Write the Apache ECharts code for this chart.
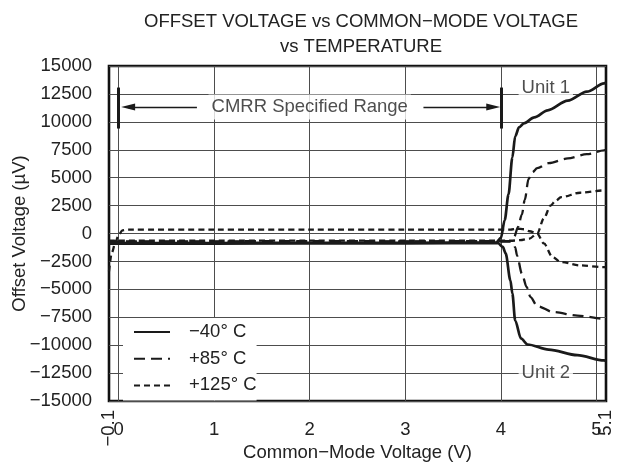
<!DOCTYPE html>
<html><head><meta charset="utf-8">
<script src="https://cdn.jsdelivr.net/npm/echarts@6/dist/echarts.min.js"></script>
<style>html,body{margin:0;padding:0;background:#fff}#c{width:619px;height:468px}</style>
</head><body><div id="c"></div>
<script>
// ---- axes / ticks ----
const xMin = -0.1, xMax = 5.1;
const xTicks = [0, 1, 2, 3, 4, 5];
const xEdgeTicks = [-0.1, 5.1];
const yMin = -15000, yMax = 15000, yStep = 2500;

// ---- series names ----
const seriesNames = ['\u221240\u00B0 C', '+85\u00B0 C', '+125\u00B0 C'];

// ---- data: [Common-Mode Voltage (V), Offset Voltage (uV)] ----
const m40Unit1 = [[-0.1,-850],[1,-850],[2,-830],[3,-830],[3.95,-820],[4.0,-400],[4.04,1200],[4.08,3500],[4.12,6800],[4.15,8700],[4.19,9500],[4.24,9860],[4.35,10400],[4.49,11030],[4.7,11900],[4.9,12700],[5.08,13440],[5.1,13550]];
const m40Unit2 = [[-0.1,-900],[1,-900],[2,-880],[3,-880],[3.97,-870],[4.02,-1200],[4.05,-1780],[4.10,-4200],[4.12,-5370],[4.15,-7790],[4.21,-9400],[4.28,-9940],[4.5,-10400],[4.8,-10900],[5.08,-11370],[5.1,-11420]];
const p85Unit1 = [[-0.1,-700],[1,-700],[2,-680],[3,-700],[4.1,-680],[4.14,-300],[4.18,600],[4.22,1700],[4.25,3000],[4.29,4900],[4.33,5500],[4.38,5850],[4.5,6300],[4.7,6720],[4.9,7100],[5.08,7450],[5.1,7500]];
const p85Unit2 = [[-0.1,-750],[1,-750],[2,-740],[3,-740],[4.1,-720],[4.13,-900],[4.15,-1250],[4.17,-2000],[4.22,-3600],[4.27,-4800],[4.31,-5700],[4.38,-6500],[4.55,-7040],[4.8,-7350],[5.08,-7630],[5.1,-7650]];
const p125Unit1 = [[-0.1,-650],[1,-650],[2,-640],[3,-650],[4.1,-650],[4.2,-600],[4.3,-450],[4.38,0],[4.45,1350],[4.52,2500],[4.57,2900],[4.63,3250],[4.83,3650],[5.08,3860],[5.1,3880]];
const p125Unit2 = [[-0.1,-3400],[-0.07,-1700],[-0.03,-700],[0,-170],[0.04,280],[0.1,340],[1,340],[2,340],[3,340],[4.1,340],[4.17,430],[4.24,380],[4.3,200],[4.38,0],[4.45,-890],[4.54,-2110],[4.63,-2560],[4.83,-2860],[5.08,-3010],[5.1,-3020]];

// ---- annotations ----
const cmrrRange = [0, 4];
const cmrrBarY = [9400, 13070];
const cmrrArrowY = 11330;
const cmrrArrowLeft = [0.82, 0.10];
const cmrrArrowRight = [3.19, 3.92];
const cmrrLabel = 'CMRR Specified Range';
const cmrrLabelX = 2.0;
const unitLabelNames = ['Unit 1', 'Unit 2'];
const unitLabelX = [4.47, 4.47];
const unitLabelY = [13000, -12450];

const FONT = '"Liberation Sans", Arial, Helvetica, sans-serif';
const FS = 18.5;
const INK = '#1a1a1a';
const minus = v => String(v).replace('-', '\u2212');

const styles = [
  { type: 'solid', width: 2.7 },
  { type: [11, 6], width: 2.3 },
  { type: [6, 4], width: 2.3 }
];
function curve(nameIdx, data) {
  return {
    type: 'line', name: seriesNames[nameIdx], data: data,
    xAxisIndex: 0, yAxisIndex: 0,
    showSymbol: false, symbol: 'none', smooth: 0.3, smoothMonotone: 'x',
    lineStyle: { color: INK, width: styles[nameIdx].width, type: styles[nameIdx].type },
    itemStyle: { color: INK },
    z: 3, silent: true
  };
}

const chart = echarts.init(document.getElementById('c'), null, { renderer: 'canvas' });
chart.setOption({
  animation: false,
  backgroundColor: '#fff',
  textStyle: { fontFamily: FONT },
  title: {
    text: 'OFFSET VOLTAGE vs COMMON\u2212MODE VOLTAGE\nvs TEMPERATURE',
    left: 356, top: 4, textAlign: 'center',
    textStyle: { fontFamily: FONT, fontSize: FS, fontWeight: 'normal', color: '#222', lineHeight: 25 }
  },
  grid: { left: 109, right: 13, top: 66, bottom: 67, show: true, borderColor: '#111', borderWidth: 2.6, backgroundColor: 'transparent', containLabel: false, outerBoundsMode: 'none' },
  legend: {
    data: seriesNames, orient: 'vertical', left: 123, top: 318,
    padding: [4, 0, 5, 10], itemGap: 6.7, itemWidth: 36, itemHeight: 14,
    backgroundColor: '#fff', z: 5, selectedMode: false,
    itemStyle: { opacity: 0 },
    textStyle: { fontFamily: FONT, fontSize: FS, color: '#222', lineHeight: 20, padding: [0, 0, 0, 14] }
  },
  xAxis: [{
    type: 'value', min: xMin, max: xMax, gridIndex: 0, position: 'bottom',
    name: 'Common\u2212Mode Voltage (V)', nameLocation: 'middle', nameGap: 42, nameMoveOverlap: false,
    nameTextStyle: { fontFamily: FONT, fontSize: FS, color: '#222' },
    axisLine: { show: false },
    axisTick: { show: false, customValues: xTicks },
    axisLabel: { customValues: xTicks, margin: 19, fontSize: FS, color: '#222', fontFamily: FONT },
    splitLine: { show: true, lineStyle: { color: '#4d4d4d', width: 1 } }
  }, {
    type: 'value', min: xMin, max: xMax, gridIndex: 0, position: 'bottom',
    axisLine: { show: false }, axisTick: { show: false }, splitLine: { show: false },
    axisLabel: { customValues: xEdgeTicks, rotate: 90, margin: 9, fontSize: FS, color: '#222', fontFamily: FONT, formatter: v => minus(v) }
  }],
  yAxis: {
    type: 'value', min: yMin, max: yMax, interval: yStep,
    name: 'Offset Voltage (\u00B5V)', nameLocation: 'middle', nameGap: 80, nameMoveOverlap: false,
    nameTextStyle: { fontFamily: FONT, fontSize: FS, color: '#222' },
    axisLine: { show: false }, axisTick: { show: false },
    axisLabel: { margin: 17, fontSize: FS, color: '#222', fontFamily: FONT, formatter: v => minus(v) },
    splitLine: { show: true, lineStyle: { color: '#4d4d4d', width: 1 } }
  },
  series: [
    curve(0, m40Unit1), curve(0, m40Unit2),
    curve(1, p85Unit1), curve(1, p85Unit2),
    curve(2, p125Unit1), curve(2, p125Unit2),
    {
      type: 'scatter', name: 'annotations', xAxisIndex: 0, yAxisIndex: 0, silent: true, z: 2,
      symbolSize: 0,
      data: unitLabelNames.map((n, i) => ({ name: n, value: [unitLabelX[i], unitLabelY[i]] }))
        .concat([{ name: cmrrLabel, value: [cmrrLabelX, cmrrArrowY] }]),
      label: {
        show: true, position: 'inside', formatter: p => p.name,
        fontFamily: FONT, fontSize: FS, color: '#222', backgroundColor: '#fff', padding: [3, 3]
      },
      markLine: {
        silent: true, animation: false, label: { show: false },
        data: [
          [{ coord: [cmrrRange[0], cmrrBarY[0]], symbol: 'none' }, { coord: [cmrrRange[0], cmrrBarY[1]], symbol: 'none', lineStyle: { width: 3, type: 'solid', color: INK } }],
          [{ coord: [cmrrRange[1], cmrrBarY[0]], symbol: 'none' }, { coord: [cmrrRange[1], cmrrBarY[1]], symbol: 'none', lineStyle: { width: 3, type: 'solid', color: INK } }],
          [{ coord: [cmrrArrowLeft[0], cmrrArrowY], symbol: 'none' }, { coord: [cmrrArrowLeft[1], cmrrArrowY], symbol: 'triangle', symbolSize: [7, 14] }],
          [{ coord: [cmrrArrowRight[0], cmrrArrowY], symbol: 'none' }, { coord: [cmrrArrowRight[1], cmrrArrowY], symbol: 'triangle', symbolSize: [7, 14] }]
        ],
        lineStyle: { color: INK, width: 1.3, type: 'solid' },
        itemStyle: { color: INK }
      }
    }
  ]
});
</script></body></html>
